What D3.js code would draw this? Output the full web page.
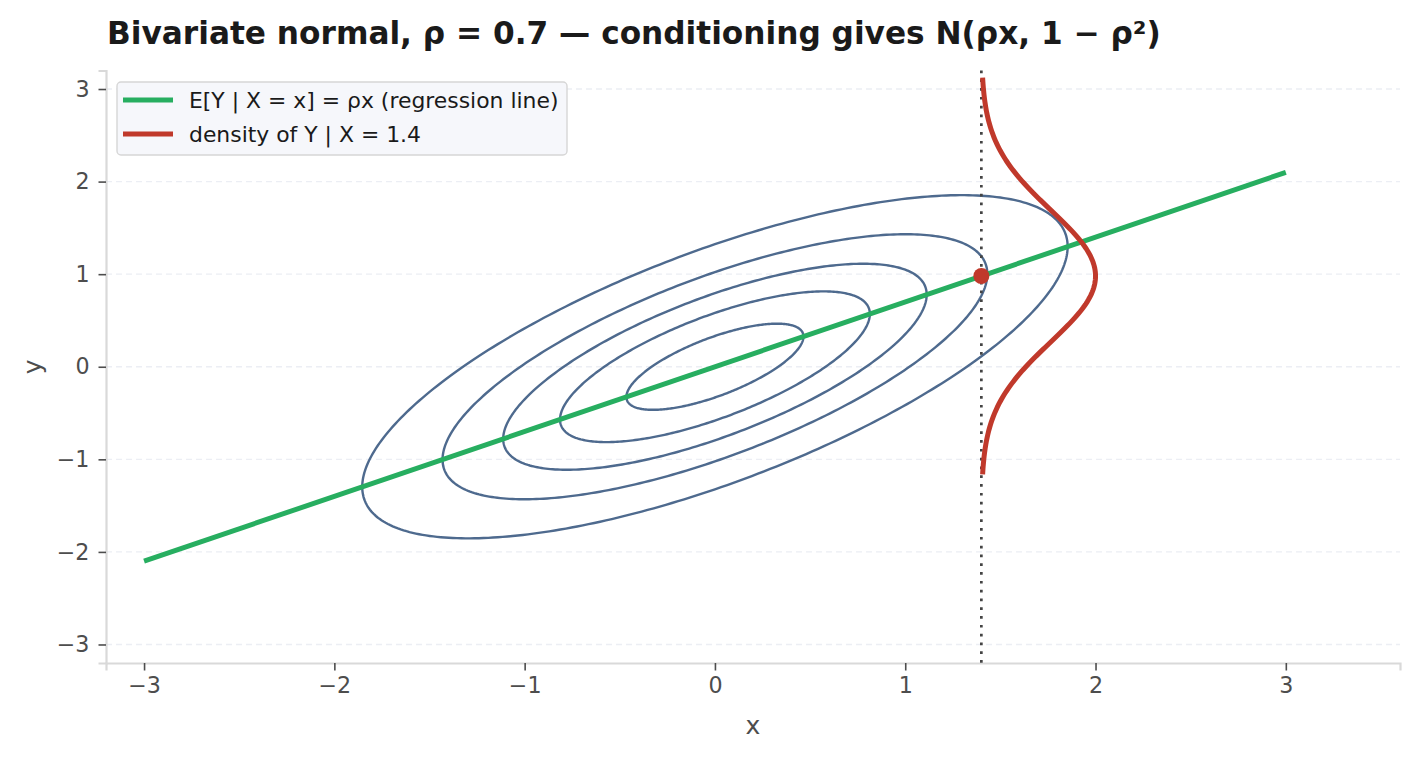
<!DOCTYPE html>
<html>
<head>
<meta charset="utf-8">
<script src="https://cdn.jsdelivr.net/npm/d3@7"></script>
<style>
  body { margin: 0; background: #fff; }
  svg { display: block; font-family: "DejaVu Sans", sans-serif; }
  .tick text { fill: #4d4d4d; font-size: 22.2px; font-family: "DejaVu Sans", sans-serif; }
  .tick line { stroke: #4d4d4d; stroke-width: 1.6; }
  .grid line { stroke: #eceef4; stroke-width: 1.4; stroke-dasharray: 6,4; }
</style>
</head>
<body>
<svg id="chart"></svg>
<script>
// chart values
var rho = 0.7;
var xGiven = 1.4;
var contourLevels = [0.04, 0.08, 0.12, 0.16, 0.20];   // density levels of the ellipses
var regressionX = [-3, 3];
var densityPeakWidth = 0.6;                            // horizontal size of the conditional density at its peak (x units)
var xTicks = [-3, -2, -1, 0, 1, 2, 3];
var yTicks = [-3, -2, -1, 0, 1, 2, 3];
var xDomain = [-3.2, 3.6];
var yDomain = [-3.2, 3.2];
var legendLabels = ["E[Y | X = x] = ρx (regression line)", "density of Y | X = 1.4"];
var titleText = "Bivariate normal, ρ = 0.7 — conditioning gives N(ρx, 1 − ρ²)";

var width = 1420, height = 760;
var margin = { top: 70.5, right: 20, bottom: 97, left: 106 };

var green = "#27ae60", red = "#c0392b", blue = "#4e6a8e";

var svg = d3.select("#chart").attr("width", width).attr("height", height);

var x = d3.scaleLinear().domain(xDomain).range([margin.left, width - margin.right]);
var y = d3.scaleLinear().domain(yDomain).range([height - margin.bottom, margin.top]);

var line = d3.line().x(d => x(d[0])).y(d => y(d[1])).curve(d3.curveLinear);

/* ~~~~~~~~~ grid + axes ~~~~~~~~~ */
svg.append("g").attr("class", "grid")
  .selectAll("line").data(yTicks).enter().append("line")
  .attr("x1", x(xDomain[0])).attr("x2", x(xDomain[1]))
  .attr("y1", d => y(d)).attr("y2", d => y(d));

var fmt = d => d < 0 ? "\u2212" + Math.abs(d) : String(d);

svg.append("g")
  .attr("transform", "translate(0," + y(yDomain[0]) + ")")
  .call(d3.axisBottom(x).tickValues(xTicks).tickSize(7.5).tickPadding(7).tickFormat(fmt))
  .call(g => g.select(".domain").attr("stroke", "#d9d9d9").attr("stroke-width", 2.2));

svg.append("g")
  .attr("transform", "translate(" + x(xDomain[0]) + ",0)")
  .call(d3.axisLeft(y).tickValues(yTicks).tickSize(7.5).tickPadding(9).tickFormat(fmt))
  .call(g => g.select(".domain").attr("stroke", "#d9d9d9").attr("stroke-width", 2.2));

/* ~~~~~~~~~ contours of the joint density ~~~~~~~~~ */
var peak = 1 / (2 * Math.PI * Math.sqrt(1 - rho * rho));
var angles = d3.range(0, 2 * Math.PI + 0.001, Math.PI / 180);

svg.append("g").selectAll("path")
  .data(contourLevels).enter().append("path")
  .attr("fill", "none").attr("stroke", blue).attr("stroke-width", 2.4)
  .attr("d", lvl => {
    var r = Math.sqrt(-2 * Math.log(lvl / peak));     // radius in whitened coordinates
    return line(angles.map(t => [
      r * Math.cos(t),
      r * (rho * Math.cos(t) + Math.sqrt(1 - rho * rho) * Math.sin(t))
    ]));
  });

/* ~~~~~~~~~ vertical line at the conditioning value ~~~~~~~~~ */
svg.append("line")
  .attr("x1", x(xGiven)).attr("x2", x(xGiven))
  .attr("y1", y(yDomain[1])).attr("y2", y(yDomain[0]))
  .attr("stroke", "#444").attr("stroke-width", 2.7).attr("stroke-dasharray", "2.7,6.1");

/* ~~~~~~~~~ regression line ~~~~~~~~~ */
svg.append("path")
  .attr("fill", "none").attr("stroke", green).attr("stroke-width", 5)
  .attr("d", line(regressionX.map(v => [v, rho * v])));

/* ~~~~~~~~~ conditional density ~~~~~~~~~ */
var mu = rho * xGiven, sd = Math.sqrt(1 - rho * rho);
var ys = d3.range(mu - 3 * sd, mu + 3 * sd + 0.001, 6 * sd / 200);
var pdf = v => Math.exp(-0.5 * Math.pow((v - mu) / sd, 2));   // scaled to 1 at the peak

svg.append("path")
  .attr("fill", "none").attr("stroke", red).attr("stroke-width", 5)
  .attr("d", line(ys.map(v => [xGiven + densityPeakWidth * pdf(v), v])));

svg.append("circle")
  .attr("cx", x(xGiven)).attr("cy", y(mu)).attr("r", 8)
  .attr("fill", red);

/* ~~~~~~~~~ legend ~~~~~~~~~ */
var legend = svg.append("g").attr("transform", "translate(117,82)");
legend.append("rect")
  .attr("width", 450).attr("height", 73).attr("rx", 4)
  .attr("fill", "#f6f7fb").attr("stroke", "#d6d6d6").attr("stroke-width", 1.4);

var rows = legend.selectAll("g.row").data(legendLabels).enter().append("g")
  .attr("class", "row")
  .attr("transform", (d, i) => "translate(0," + (18 + i * 34) + ")");
rows.append("line")
  .attr("x1", 6).attr("x2", 56)
  .attr("stroke", (d, i) => i === 0 ? green : red).attr("stroke-width", 5);
rows.append("text")
  .attr("x", 72).attr("dy", "0.36em")
  .attr("fill", "#1a1a1a").style("font-size", "21.9px")
  .text(d => d);

/* ~~~~~~~~~ titles ~~~~~~~~~ */
svg.append("text")
  .attr("x", 107).attr("y", 43.5)
  .attr("fill", "#1a1a1a").style("font-size", "31.2px").style("font-weight", "bold")
  .text(titleText);

svg.append("text")
  .attr("x", (x.range()[0] + x.range()[1]) / 2).attr("y", 734)
  .attr("text-anchor", "middle").attr("fill", "#4d4d4d").style("font-size", "25px")
  .text("x");

svg.append("text")
  .attr("transform", "translate(41," + y(0) + ") rotate(-90)")
  .attr("text-anchor", "middle").attr("fill", "#4d4d4d").style("font-size", "25px")
  .text("y");
</script>
</body>
</html>
